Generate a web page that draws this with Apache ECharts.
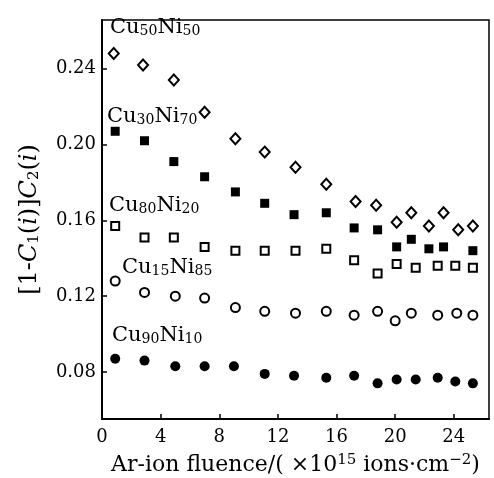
<!DOCTYPE html>
<html>
<head>
<meta charset="utf-8">
<script src="https://cdn.jsdelivr.net/npm/echarts@6/dist/echarts.min.js"></script>
<style>
  html, body { margin: 0; padding: 0; background: #fff; }
  #chart { width: 494px; height: 478px; }
</style>
</head>
<body>
<div id="chart"></div>
<script>
// valeurs
const xTicks = [0, 4, 8, 12, 16, 20, 24];
const yTicks = [0.08, 0.12, 0.16, 0.20, 0.24];

const cu50X = [0.8, 2.8, 4.9, 7.0, 9.1, 11.1, 13.2, 15.3, 17.3, 18.7, 20.1, 21.1, 22.3, 23.3, 24.3, 25.3];
const cu50Y = [0.248, 0.242, 0.234, 0.217, 0.203, 0.196, 0.188, 0.179, 0.170, 0.168, 0.159, 0.164, 0.157, 0.164, 0.155, 0.157];

const cu30X = [0.9, 2.9, 4.9, 7.0, 9.1, 11.1, 13.1, 15.3, 17.2, 18.8, 20.1, 21.1, 22.3, 23.3, 25.3];
const cu30Y = [0.207, 0.202, 0.191, 0.183, 0.175, 0.169, 0.163, 0.164, 0.156, 0.155, 0.146, 0.150, 0.145, 0.146, 0.144];

const cu80X = [0.9, 2.9, 4.9, 7.0, 9.1, 11.1, 13.2, 15.3, 17.2, 18.8, 20.1, 21.4, 22.9, 24.1, 25.3];
const cu80Y = [0.157, 0.151, 0.151, 0.146, 0.144, 0.144, 0.144, 0.145, 0.139, 0.132, 0.137, 0.135, 0.136, 0.136, 0.135];

const cu15X = [0.9, 2.9, 5.0, 7.0, 9.1, 11.1, 13.2, 15.3, 17.2, 18.8, 20.0, 21.1, 22.9, 24.2, 25.3];
const cu15Y = [0.128, 0.122, 0.120, 0.119, 0.114, 0.112, 0.111, 0.112, 0.110, 0.112, 0.107, 0.111, 0.110, 0.111, 0.110];

const cu90X = [0.9, 2.9, 5.0, 7.0, 9.0, 11.1, 13.1, 15.3, 17.2, 18.8, 20.1, 21.4, 22.9, 24.1, 25.3];
const cu90Y = [0.087, 0.086, 0.083, 0.083, 0.083, 0.079, 0.078, 0.077, 0.078, 0.074, 0.076, 0.076, 0.077, 0.075, 0.074];

const zip = (xs, ys) => xs.map((x, i) => [x, ys[i]]);

const font = 'DejaVu Serif';
const chart = echarts.init(document.getElementById('chart'));

const openStyle = { color: '#fff', borderColor: '#000', borderWidth: 2, opacity: 1 };
const fullStyle = { color: '#000', opacity: 1 };

// indices et exposants en texte riche
const richLabel = {
  s: { fontFamily: font, fontSize: 14, color: '#000', padding: [7, 0, 0, 0] },
};
const richX = {
  u: { fontFamily: font, fontSize: 15, color: '#000', padding: [0, 0, 9, 0] },
};
const richY = {
  s: { fontFamily: font, fontSize: 15, color: '#000', padding: [8, 0, 0, 0] },
  i: { fontFamily: font, fontSize: 24, fontStyle: 'italic', color: '#000' },
};

const label = (a, b, x, y) => ({
  type: 'text',
  x: x,
  y: y,
  style: {
    text: 'Cu{s|' + a + '}Ni{s|' + b + '}',
    fontFamily: font, fontSize: 21, fill: '#000',
    verticalAlign: 'middle',
    rich: richLabel,
  },
});

const option = {
  animation: false,
  backgroundColor: '#fff',
  grid: {
    left: 102, right: 5, top: 20, bottom: 59,
    outerBoundsMode: 'none',
    show: true, borderColor: '#000', borderWidth: 1.5,
  },
  xAxis: {
    type: 'value',
    min: 0,
    max: 26.4,
    name: 'Ar-ion fluence/( ×10{u|15} ions·cm{u|−2})',
    nameLocation: 'middle',
    nameGap: 34,
    nameTextStyle: { fontFamily: font, fontSize: 22, color: '#000', rich: richX },
    axisLine: { lineStyle: { color: '#000', width: 2 } },
    axisTick: { inside: true, length: 5, customValues: xTicks, lineStyle: { color: '#000', width: 1.5 } },
    axisLabel: { customValues: xTicks, fontFamily: font, fontSize: 18, color: '#000', margin: 9 },
    splitLine: { show: false },
  },
  yAxis: {
    type: 'value',
    min: 0.0552,
    max: 0.2657,
    name: '[1-{i|C}{s|1}({i|i})]{i|C}{s|2}({i|i})',
    nameLocation: 'middle',
    nameGap: 60,
    nameTextStyle: { fontFamily: font, fontSize: 24, color: '#000', rich: richY },
    axisLine: { lineStyle: { color: '#000', width: 2 } },
    axisTick: { inside: true, length: 5, customValues: yTicks, lineStyle: { color: '#000', width: 1.5 } },
    axisLabel: {
      customValues: yTicks, fontFamily: font, fontSize: 18, color: '#000', margin: 6,
      formatter: (v) => v.toFixed(2),
    },
    splitLine: { show: false },
  },
  series: [
    { name: 'Cu50Ni50', type: 'scatter', symbol: 'diamond', symbolSize: [10, 11], itemStyle: openStyle, data: zip(cu50X, cu50Y) },
    { name: 'Cu30Ni70', type: 'scatter', symbol: 'rect', symbolSize: 9, itemStyle: fullStyle, data: zip(cu30X, cu30Y) },
    { name: 'Cu80Ni20', type: 'scatter', symbol: 'rect', symbolSize: 8, itemStyle: openStyle, data: zip(cu80X, cu80Y) },
    { name: 'Cu15Ni85', type: 'scatter', symbol: 'circle', symbolSize: 9, itemStyle: openStyle, data: zip(cu15X, cu15Y) },
    { name: 'Cu90Ni10', type: 'scatter', symbol: 'circle', symbolSize: 10, itemStyle: fullStyle, data: zip(cu90X, cu90Y) },
  ],
  graphic: [
    label('50', '50', 110, 28),
    label('30', '70', 107, 117),
    label('80', '20', 109, 206),
    label('15', '85', 122, 268),
    label('90', '10', 112, 336),
  ],
};

chart.setOption(option);
</script>
</body>
</html>
